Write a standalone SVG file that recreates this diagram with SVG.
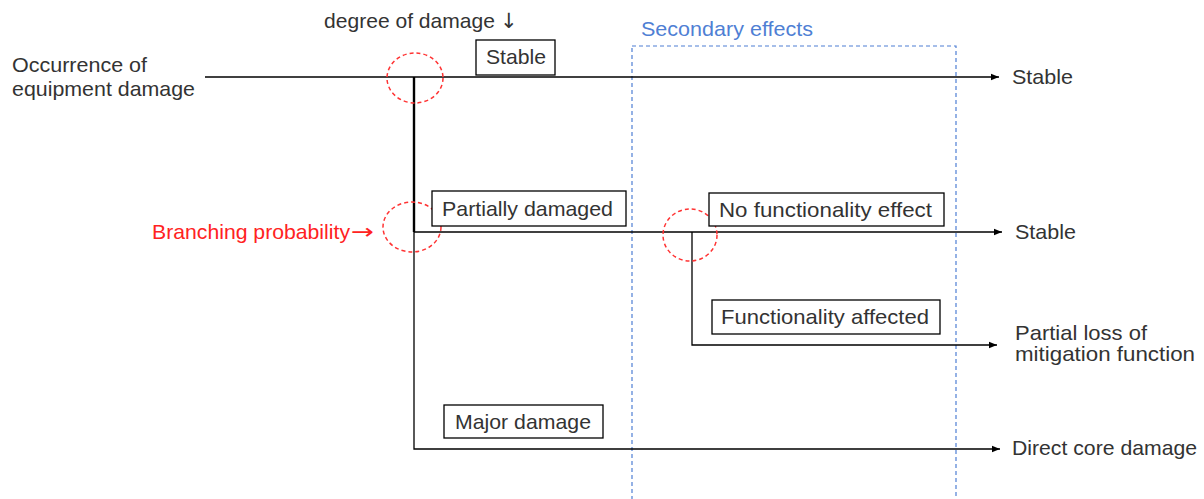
<svg xmlns="http://www.w3.org/2000/svg" width="1204" height="499" viewBox="0 0 1204 499">
<style>
text{font-family:"Liberation Sans",Arial,sans-serif;font-size:21px;fill:#333}
.arw{font-family:"DejaVu Sans",sans-serif}
.box{fill:#fff;stroke:#000;stroke-width:1.3}
.ln{fill:none;stroke:#000;stroke-width:1.3}
.circ{fill:none;stroke:#f33;stroke-width:1.5;stroke-dasharray:4 3}
.red{fill:#f22}
.blue{fill:#4f7fd4}
</style>
<defs>
<marker id="ah" viewBox="0 0 10 10" refX="10" refY="5" markerWidth="8" markerHeight="8" markerUnits="userSpaceOnUse" orient="auto"><path d="M0,1 L10,5 L0,9 z" fill="#000"/></marker>
</defs>
<g id="secondary">
<rect x="632" y="46" width="324" height="470" fill="none" stroke="#4f7fd4" stroke-width="1.2" stroke-dasharray="4 3"/>
<text class="blue" x="641" y="36" textLength="172" lengthAdjust="spacingAndGlyphs">Secondary effects</text>
</g>
<g id="connectors">
<path class="ln" d="M205,77 H999" marker-end="url(#ah)"/>
<path d="M414,77 V232" fill="none" stroke="#000" stroke-width="2.4"/>
<path class="ln" d="M414,232 V449 H1000" marker-end="url(#ah)"/>
<path class="ln" d="M414,232 H1002" marker-end="url(#ah)"/>
<path class="ln" d="M692,232 V345 H997" marker-end="url(#ah)"/>
</g>
<g id="circles">
<ellipse class="circ" cx="415" cy="78" rx="28" ry="25"/>
<ellipse class="circ" cx="412" cy="227" rx="29" ry="25"/>
<ellipse class="circ" cx="690" cy="235" rx="27" ry="26"/>
</g>
<g id="labels">
<text x="324" y="28" textLength="171" lengthAdjust="spacingAndGlyphs">degree of damage</text>
<text class="arw" x="500" y="28" font-size="19">↓</text>
<text x="12" y="72" textLength="135" lengthAdjust="spacingAndGlyphs">Occurrence of</text>
<text x="12" y="96" textLength="183" lengthAdjust="spacingAndGlyphs">equipment damage</text>
<text class="red" x="152" y="239" textLength="198" lengthAdjust="spacingAndGlyphs">Branching probability</text>
<text class="red arw" x="351" y="239" textLength="23" lengthAdjust="spacingAndGlyphs">→</text>
</g>
<g id="node-stable-top"><rect class="box" x="476" y="40" width="79" height="35"/><text x="486" y="64" textLength="60" lengthAdjust="spacingAndGlyphs">Stable</text></g>
<g id="node-partial"><rect class="box" x="432" y="191" width="194" height="35"/><text x="442" y="216" textLength="171" lengthAdjust="spacingAndGlyphs">Partially damaged</text></g>
<g id="node-nofunc"><rect class="box" x="709" y="193" width="235" height="33"/><text x="719" y="217" textLength="213" lengthAdjust="spacingAndGlyphs">No functionality effect</text></g>
<g id="node-funcaff"><rect class="box" x="712" y="300" width="228" height="34"/><text x="721" y="324" textLength="208" lengthAdjust="spacingAndGlyphs">Functionality affected</text></g>
<g id="node-major"><rect class="box" x="444" y="405" width="159" height="33"/><text x="455" y="429" textLength="136" lengthAdjust="spacingAndGlyphs">Major damage</text></g>
<g id="outcomes">
<text x="1012" y="84" textLength="61" lengthAdjust="spacingAndGlyphs">Stable</text>
<text x="1015" y="239" textLength="61" lengthAdjust="spacingAndGlyphs">Stable</text>
<text x="1015" y="340" textLength="132" lengthAdjust="spacingAndGlyphs">Partial loss of</text>
<text x="1015" y="361" textLength="180" lengthAdjust="spacingAndGlyphs">mitigation function</text>
<text x="1012" y="455" textLength="185" lengthAdjust="spacingAndGlyphs">Direct core damage</text>
</g>
</svg>
